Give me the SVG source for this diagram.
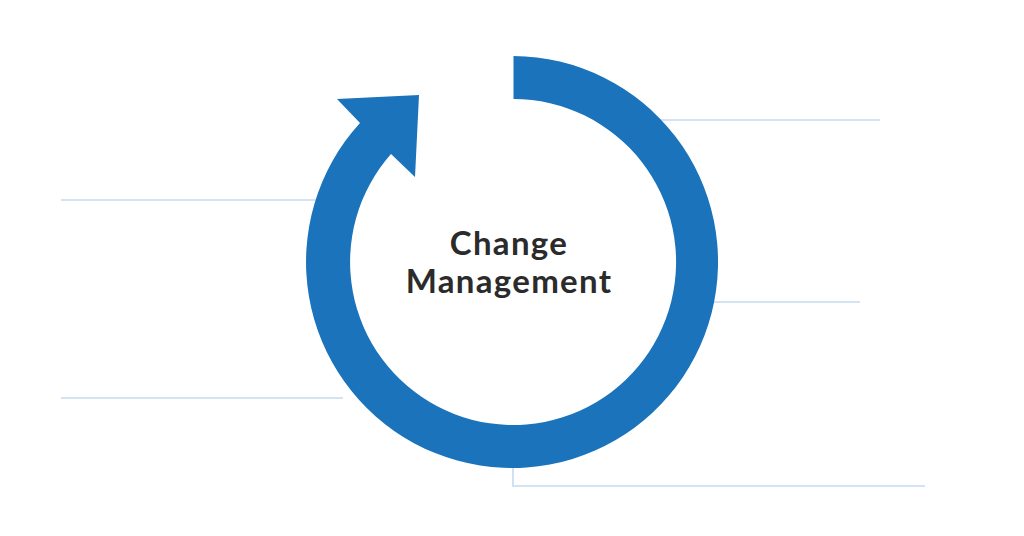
<svg xmlns="http://www.w3.org/2000/svg" width="1024" height="536" viewBox="0 0 1024 536">
<style>
.conn{stroke:#c5daf0;stroke-width:1.6;fill:none}
.ring{fill:#1a73bb}
.label{font-family:Lato,"Open Sans","Liberation Sans",sans-serif;font-weight:700;font-size:33px;letter-spacing:1.3px;fill:#2b2b2b;text-anchor:middle}
</style>
<rect width="1024" height="536" fill="#ffffff"/>
<g id="connectors">
<line class="conn" x1="61" y1="200" x2="330" y2="200"/>
<line class="conn" x1="61" y1="398" x2="343" y2="398"/>
<line class="conn" x1="650" y1="120" x2="880" y2="120"/>
<line class="conn" x1="700" y1="302" x2="860" y2="302"/>
<polyline class="conn" points="513,455 513,486 925,486"/>
</g>
<g id="cycle">
<path class="ring" d="M 513.5 56 A 206 206 0 1 1 360 123 L 337 99 L 419 95 L 415 177 L 391 154 A 163 163 0 1 0 513.5 99 Z"/>
</g>
<g id="center-label">
<text class="label" x="509" y="255">Change</text>
<text class="label" x="509" y="293">Management</text>
</g>
</svg>
